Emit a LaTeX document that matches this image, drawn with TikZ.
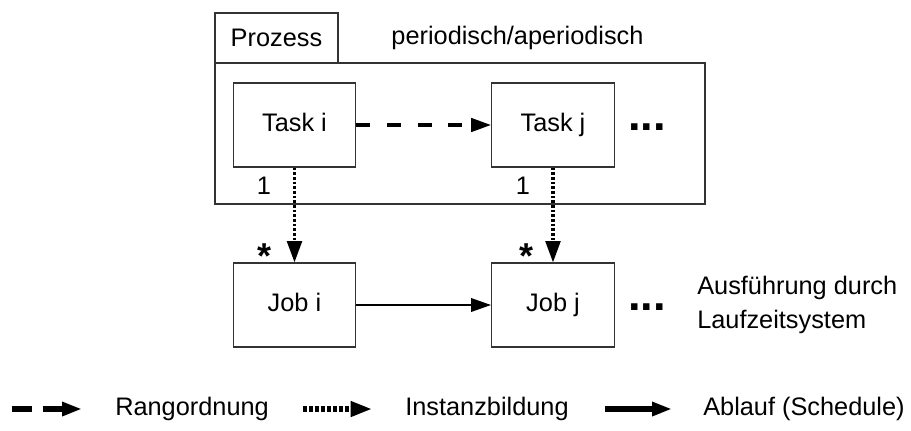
\documentclass[tikz,border=0pt]{standalone}
\usepackage{fontspec}
\setmainfont{Liberation Sans}
\usetikzlibrary{arrows.meta}

\begin{document}
\begin{tikzpicture}[x=0.75pt,y=-0.75pt]
% Styles
\tikzstyle{boite}=[draw=black!80,line width=0.8pt,minimum width=92pt,minimum height=63pt,text height=13.5pt,text depth=4pt,font=\fontsize{19}{23}\selectfont]
\tikzstyle{texte}=[font=\fontsize{19}{23}\selectfont,inner sep=0pt]
\tikzstyle{points}=[font=\fontsize{34}{34}\bfseries,inner sep=0pt,anchor=base]
\tikzstyle{rangordnung}=[-{Triangle[length=15pt,width=10pt]},line width=2.6pt,dash pattern=on 10.5pt off 12.5pt]
\tikzstyle{instanz}=[-{Triangle[length=16pt,width=11pt]},line width=2.4pt,dash pattern=on 2.2pt off 1.3pt]
\tikzstyle{ablauf}=[-{Triangle[length=15pt,width=10pt]},line width=1.7pt]
\tikzstyle{legfleche}=[line width=3.8pt]
% Dimensions
\def\ColI{294.5}
\def\ColJ{553}
\def\NiveauTask{125}
\def\NiveauJob{305}
\def\NiveauLegende{409}
\useasboundingbox (0,0) rectangle (911,430);
% Prozess
\node[draw=black!80,line width=0.8pt,minimum width=92.25pt,minimum height=37.5pt,texte] (tab) at (276.5,38) {Prozess};
\node[draw=black!80,line width=0.8pt,minimum width=367.5pt,minimum height=105.75pt,inner sep=0pt] (prozess) at (460,133.5) {};
\node[texte] (art) at (517.5,38) {periodisch/aperiodisch};
% Tasks et jobs
\node[boite] (Ti) at (\ColI,\NiveauTask) {Task i};
\node[boite] (Tj) at (\ColJ,\NiveauTask) {Task j};
\node[boite] (Ji) at (\ColI,\NiveauJob) {Job i};
\node[boite] (Jj) at (\ColJ,\NiveauJob) {Job j};
\node[points] (Tp) at (647,130) {...};
\node[points] (Jp) at (647,310) {...};
\node[texte,anchor=west,align=left,font=\fontsize{19}{25}\selectfont] (lz) at (697,305) {Ausführung durch\\Laufzeitsystem};
% Multiplicites
\node[texte] (ni) at (264,186) {1};
\node[texte] (nj) at (523,186) {1};
\node[texte,font=\fontsize{27}{27}\bfseries] (si) at (265,256) {*};
\node[texte,font=\fontsize{27}{27}\bfseries] (sj) at (527,256) {*};
% Arcs
\draw[rangordnung] (Ti)--(Tj);
\draw[instanz] (Ti)--(Ji);
\draw[instanz] (Tj)--(Jj);
\draw[ablauf] (Ji)--(Jj);
% Legende
\coordinate (r0) at (12,\NiveauLegende);
\coordinate (r1) at (82,\NiveauLegende);
\coordinate (i0) at (303,\NiveauLegende);
\coordinate (i1) at (372,\NiveauLegende);
\coordinate (a0) at (605,\NiveauLegende);
\coordinate (a1) at (672,\NiveauLegende);
\draw[rangordnung,legfleche,dash pattern=on 15pt off 8pt] (r0)--(r1);
\draw[instanz,legfleche,dash pattern=on 3pt off 1.5pt] (i0)--(i1);
\draw[ablauf,legfleche] (a0)--(a1);
\node[texte,anchor=west] (lr) at (115,\NiveauLegende) {Rangordnung};
\node[texte,anchor=west] (li) at (405,\NiveauLegende) {Instanzbildung};
\node[texte,anchor=west] (la) at (703,\NiveauLegende) {Ablauf (Schedule)};
\end{tikzpicture}
\end{document}
